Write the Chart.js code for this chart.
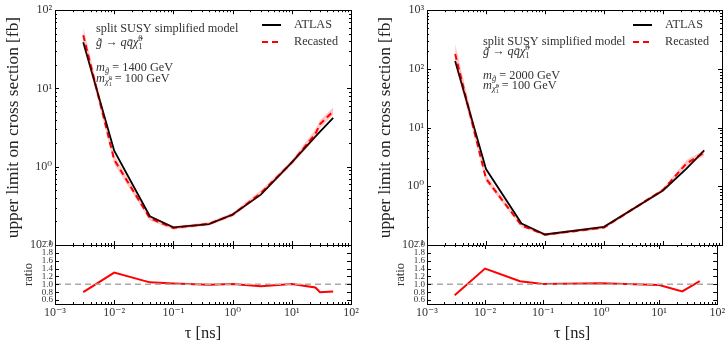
<!DOCTYPE html>
<html>
<head>
<meta charset="utf-8">
<script src="https://cdn.jsdelivr.net/npm/chart.js@4.4.0/dist/chart.umd.min.js"></script>
<style>
  html, body { margin: 0; padding: 0; background: #fff; }
  #wrap { position: relative; width: 727px; height: 352px; overflow: hidden; }
  #wrap canvas { position: absolute; left: 0; top: 0; width: 727px; height: 352px; }
</style>
</head>
<body>
<div id="wrap">
  <canvas id="mainL" width="727" height="352"></canvas>
  <canvas id="ratioL" width="727" height="352"></canvas>
  <canvas id="mainR" width="727" height="352"></canvas>
  <canvas id="ratioR" width="727" height="352"></canvas>
</div>
<script>
(function(){
  'use strict';

  // left panel: m_gluino = 1400 GeV
  const tauL    = [0.003, 0.01, 0.04, 0.1, 0.4, 1, 3, 10, 25, 30, 50];
  const atlasL  = [39, 1.6, 0.233, 0.168, 0.185, 0.245, 0.44, 1.14, 2.42, 2.81, 4.2];
  const recastL = [48, 1.23, 0.22, 0.165, 0.187, 0.243, 0.46, 1.13, 2.63, 3.5, 5.1];
  const bandHiL = [60, 1.4, 0.237, 0.174, 0.197, 0.258, 0.5, 1.22, 3.0, 3.95, 5.7];
  const bandLoL = [38, 1.08, 0.206, 0.157, 0.178, 0.23, 0.43, 1.05, 2.3, 3.1, 4.6];
  const ratioL  = [0.8, 1.3, 1.05, 1.02, 0.99, 1.01, 0.95, 1.01, 0.92, 0.8, 0.82];

  // right panel: m_gluino = 2000 GeV
  const tauR    = [0.003, 0.01, 0.04, 0.1, 1, 10, 25, 50];
  const atlasR  = [136, 1.97, 0.232, 0.151, 0.204, 0.85, 2.0, 4.1];
  const recastR = [180, 1.35, 0.215, 0.15, 0.198, 0.87, 2.45, 3.75];
  const bandHiR = [265, 1.58, 0.23, 0.159, 0.21, 0.93, 2.8, 4.15];
  const bandLoR = [125, 1.18, 0.201, 0.142, 0.188, 0.81, 2.15, 3.35];
  const ratioR  = [0.72, 1.4, 1.08, 1.01, 1.03, 0.98, 0.82, 1.08];

  // axes
  const xTicks = [1e-3, 1e-2, 1e-1, 1, 10, 100];
  const yTicksL = [0.1, 1, 10, 100];
  const yTicksR = [0.1, 1, 10, 100, 1000];
  const ratioTicks = [0.6, 0.8, 1.0, 1.2, 1.4, 1.6, 1.8, 2.0];
  const unityX = [1e-3, 1e2];
  const unityY = [1, 1];

  const SERIF = '"Liberation Serif", "DejaVu Serif", serif';
  const INK = '#333';
  const SUP = {'-': '\u207B', '0': '\u2070', '1': '\u00B9', '2': '\u00B2', '3': '\u00B3'};
  const pow10 = v => '10' + String(Math.round(Math.log10(v))).split('').map(c => SUP[c]).join('');
  const pts = (xs, ys) => xs.map((x, i) => ({x: x, y: ys[i]}));

  // minor/major positions on a log axis
  function logMarks(min, max){
    const out = [];
    for (let e = Math.floor(Math.log10(min)); e <= Math.ceil(Math.log10(max)); e++) {
      for (let m = 1; m <= 9; m++) {
        const v = m * Math.pow(10, e);
        if (v >= min * 0.999 && v <= max * 1.001) out.push({v: v, major: m === 1});
      }
    }
    return out;
  }

  // matplotlib-like frame with inward ticks on all four sides
  const frameTicks = {
    id: 'frameTicks',
    afterDatasetsDraw(chart){
      const {ctx, chartArea: a, scales} = chart;
      const xs = scales.x, ys = scales.y;
      ctx.save();
      ctx.strokeStyle = '#000';
      ctx.lineWidth = 1;
      ctx.beginPath();
      logMarks(xs.min, xs.max).forEach(t => {
        const px = Math.round(xs.getPixelForValue(t.v)) + 0.5;
        const L = t.major ? 4 : 2;
        ctx.moveTo(px, a.top); ctx.lineTo(px, a.top + L);
        ctx.moveTo(px, a.bottom); ctx.lineTo(px, a.bottom - L);
      });
      const yMarks = ys.type === 'logarithmic'
        ? logMarks(ys.min, ys.max)
        : ratioTicks.map(v => ({v: v, major: true}));
      yMarks.forEach(t => {
        const py = Math.round(ys.getPixelForValue(t.v)) + 0.5;
        const L = t.major ? 4 : 2;
        ctx.moveTo(a.left, py); ctx.lineTo(a.left + L, py);
        ctx.moveTo(a.right, py); ctx.lineTo(a.right - L, py);
      });
      ctx.stroke();
      ctx.strokeRect(Math.round(a.left) + 0.5, Math.round(a.top) + 0.5,
                     Math.round(a.width), Math.round(a.height));
      ctx.restore();
    }
  };

  function drawRuns(ctx, x, y, runs, size){
    let cx = x;
    runs.forEach(r => {
      const s = size * (r.s || 1);
      ctx.font = (r.it ? 'italic ' : '') + s + 'px ' + SERIF;
      ctx.fillText(r.t, cx, y + (r.dy || 0));
      if (!r.keep) cx += ctx.measureText(r.t).width;
    });
  }

  // annotation text + legend, drawn inside the plot
  function makeNotes(cfg){
    return {
      id: 'notes',
      afterDraw(chart){
        const ctx = chart.ctx;
        ctx.save();
        ctx.textBaseline = 'middle';
        ctx.textAlign = 'left';
        ctx.fillStyle = INK;
        const mg = cfg.mass;
        const lines = [
          {y: cfg.y[0], runs: [{t: 'split SUSY simplified model'}]},
          {y: cfg.y[1], runs: [{t: 'g\u0303', it: true}, {t: ' \u2192 '}, {t: 'qq\u0304\u03C7\u0303', it: true},
                               {t: '0', s: 0.7, dy: -4, keep: true}, {t: '1', s: 0.7, dy: 3.5}]},
          {y: cfg.y[2], runs: [{t: 'm', it: true}, {t: 'g\u0303', it: true, s: 0.7, dy: 3}, {t: ' = ' + mg + ' GeV'}]},
          {y: cfg.y[3], runs: [{t: 'm', it: true}, {t: '\u03C7\u0303', it: true, s: 0.7, dy: 3},
                               {t: '0', s: 0.5, dy: 0, keep: true}, {t: '1', s: 0.5, dy: 5.5}, {t: ' = 100 GeV'}]}
        ];
        lines.forEach(l => drawRuns(ctx, cfg.x, l.y, l.runs, 12.3));

        // legend
        const items = chart.data.datasets.filter(d => d.label === 'ATLAS' || d.label === 'Recasted');
        items.forEach((d, i) => {
          const y = cfg.legY[i];
          ctx.save();
          ctx.strokeStyle = d.borderColor;
          ctx.lineWidth = 2;
          ctx.setLineDash(d.borderDash || []);
          ctx.beginPath();
          ctx.moveTo(cfg.legX, y); ctx.lineTo(cfg.legX + 19, y);
          ctx.stroke();
          ctx.restore();
          ctx.font = '12.2px ' + SERIF;
          ctx.fillText(d.label, cfg.legX + 32, y);
        });
        ctx.restore();
      }
    };
  }

  function mainChart(id, pad, o){
    return new Chart(document.getElementById(id), {
      type: 'line',
      data: {
        datasets: [
          {label: 'band hi', data: pts(o.tau, o.hi), borderWidth: 0, pointRadius: 0, fill: false},
          {label: 'band lo', data: pts(o.tau, o.lo), borderWidth: 0, pointRadius: 0, fill: '-1',
           backgroundColor: 'rgba(255, 0, 0, 0.22)'},
          {label: 'ATLAS', data: pts(o.tau, o.atlas), borderColor: '#000', borderWidth: 1.8, pointRadius: 0, fill: false},
          {label: 'Recasted', data: pts(o.tau, o.recast), borderColor: '#f00', borderWidth: 2,
           borderDash: [6, 4], pointRadius: 0, fill: false}
        ]
      },
      options: {
        responsive: false,
        animation: false,
        layout: {padding: pad},
        plugins: {legend: {display: false}, tooltip: {enabled: false}},
        scales: {
          x: {type: 'logarithmic', min: 1e-3, max: 1e2, display: false},
          y: {
            type: 'logarithmic', min: o.ymin, max: o.ymax,
            afterBuildTicks: s => { s.ticks = o.yTicks.map(v => ({value: v})); },
            afterFit: s => { s.width = 55; },
            grid: {display: false, drawTicks: false},
            border: {display: false},
            ticks: {autoSkip: false, callback: v => pow10(v), color: INK, font: {family: SERIF, size: 12}, padding: 3},
            title: {display: true, text: 'upper limit on cross section [fb]', color: '#222',
                    font: {family: SERIF, size: 17.3}, padding: {top: 3, bottom: 0}}
          }
        }
      },
      plugins: [frameTicks, makeNotes(o.notes)]
    });
  }

  function ratioChart(id, pad, o){
    return new Chart(document.getElementById(id), {
      type: 'line',
      data: {
        datasets: [
          {label: 'unity', data: pts(unityX, unityY), borderColor: '#aaa', borderWidth: 1.5,
           borderDash: [6, 4], pointRadius: 0, fill: false},
          {label: 'ratio', data: pts(o.tau, o.ratio), borderColor: '#f00', borderWidth: 2, pointRadius: 0, fill: false}
        ]
      },
      options: {
        responsive: false,
        animation: false,
        layout: {padding: pad},
        plugins: {legend: {display: false}, tooltip: {enabled: false}},
        scales: {
          x: {
            type: 'logarithmic', min: 1e-3, max: 1e2,
            afterBuildTicks: s => { s.ticks = xTicks.map(v => ({value: v})); },
            afterFit: s => { s.height = 48; },
            grid: {display: false, drawTicks: false},
            border: {display: false},
            ticks: {autoSkip: false, maxRotation: 0, callback: v => pow10(v), color: INK,
                    font: {family: SERIF, size: 12}, padding: 2},
            title: {display: true, text: '\u03C4 [ns]', color: '#222',
                    font: {family: SERIF, size: 16.5}, padding: {top: 0, bottom: 8}}
          },
          y: {
            type: 'linear', min: 0.5, max: 2.0,
            afterBuildTicks: s => { s.ticks = ratioTicks.map(v => ({value: v})); },
            afterFit: s => { s.width = 55; },
            grid: {display: false, drawTicks: false},
            border: {display: false},
            ticks: {autoSkip: false, callback: v => v.toFixed(1), color: INK,
                    font: {family: SERIF, size: 9}, padding: 2},
            title: {display: true, text: 'ratio', color: INK,
                    font: {family: SERIF, size: 12.5}, padding: {top: 21, bottom: 0}}
          }
        }
      },
      plugins: [frameTicks]
    });
  }

  mainChart('mainL', {left: 0, right: 376, top: 8, bottom: 107}, {
    tau: tauL, atlas: atlasL, recast: recastL, hi: bandHiL, lo: bandLoL,
    ymin: 0.1, ymax: 100, yTicks: yTicksL,
    notes: {x: 96, y: [29, 43, 68, 78.5], mass: 1400, legX: 262, legY: [25, 42]}
  });
  ratioChart('ratioL', {left: 0, right: 376, top: 245, bottom: 0}, {tau: tauL, ratio: ratioL});

  mainChart('mainR', {left: 372, right: 5, top: 8, bottom: 107}, {
    tau: tauR, atlas: atlasR, recast: recastR, hi: bandHiR, lo: bandLoR,
    ymin: 0.1, ymax: 1000, yTicks: yTicksR,
    notes: {x: 483, y: [41.5, 52, 75.5, 86], mass: 2000, legX: 633, legY: [25, 42]}
  });
  ratioChart('ratioR', {left: 372, right: 5, top: 245, bottom: 0}, {tau: tauR, ratio: ratioR});
})();
</script>
</body>
</html>
